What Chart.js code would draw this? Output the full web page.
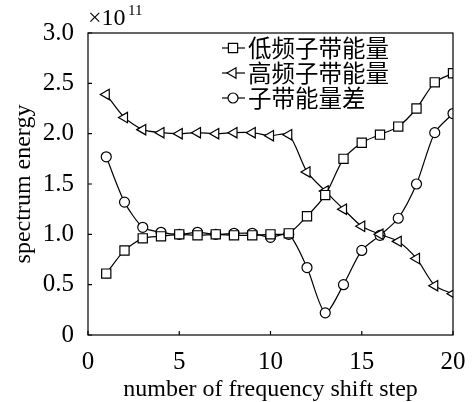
<!DOCTYPE html>
<html>
<head>
<meta charset="utf-8">
<script src="https://cdn.jsdelivr.net/npm/chart.js@4/dist/chart.umd.min.js"></script>
<style>
  html, body { margin: 0; padding: 0; background: #fff; }
  #wrap { width: 472px; height: 402px; }
</style>
</head>
<body>
<div id="wrap"><canvas id="chart" width="472" height="402"></canvas></div>
<script>
// data (values in units of 1e11)
const steps = [1, 2, 3, 4, 5, 6, 7, 8, 9, 10, 11, 12, 13, 14, 15, 16, 17, 18, 19, 20];
const lowBand  = [0.61, 0.84, 0.96, 0.98, 1.00, 0.99, 1.00, 0.99, 0.99, 1.00, 1.01, 1.18, 1.39, 1.75, 1.91, 1.99, 2.07, 2.25, 2.51, 2.60];
const highBand = [2.39, 2.16, 2.04, 2.01, 2.00, 2.01, 2.00, 2.01, 2.01, 1.98, 1.99, 1.62, 1.43, 1.25, 1.08, 1.00, 0.93, 0.76, 0.49, 0.41];
const bandDiff = [1.77, 1.32, 1.07, 1.02, 1.00, 1.02, 1.00, 1.01, 1.01, 0.97, 1.00, 0.67, 0.22, 0.50, 0.84, 0.99, 1.16, 1.50, 2.01, 2.20];
const seriesNames = ["低频子带能量", "高频子带能量", "子带能量差"];
const xTicks = [0, 5, 10, 15, 20];
const yTicks = [0, 0.5, 1.0, 1.5, 2.0, 2.5, 3.0];

const serif = "'Liberation Serif', 'DejaVu Serif', serif";
const cjk = "'Noto Sans CJK SC', sans-serif";

function pts(vals) {
  return vals.map((v, i) => ({ x: steps[i], y: v }));
}

function series(label, vals, style, radius, rotation) {
  return {
    label,
    data: pts(vals),
    borderColor: '#000',
    borderWidth: 1.2,
    pointStyle: style,
    pointRadius: radius,
    pointRotation: rotation,
    pointBorderColor: '#000',
    pointBorderWidth: 1.2,
    pointBackgroundColor: '#fff',
    tension: 0.25,
    fill: false
  };
}

// frame, inward ticks, exponent label and legend
const decorations = {
  id: 'decorations',
  afterDraw(chart) {
    const ctx = chart.ctx;
    const a = chart.chartArea;
    const xs = chart.scales.x, ys = chart.scales.y;
    ctx.save();
    ctx.strokeStyle = '#000';
    ctx.lineWidth = 1.2;
    ctx.strokeRect(a.left, a.top, a.right - a.left, a.bottom - a.top);

    ctx.beginPath();
    xTicks.forEach(t => {
      const px = xs.getPixelForValue(t);
      ctx.moveTo(px, a.bottom);
      ctx.lineTo(px, a.bottom - 4);
    });
    yTicks.forEach(t => {
      const py = ys.getPixelForValue(t);
      ctx.moveTo(a.left, py);
      ctx.lineTo(a.left + 4, py);
    });
    ctx.stroke();

    // ×10^11
    ctx.fillStyle = '#000';
    ctx.textBaseline = 'alphabetic';
    ctx.textAlign = 'left';
    ctx.font = '24px ' + serif;
    ctx.fillText('×10', 88, 25);
    ctx.font = '15px ' + serif;
    ctx.fillText('11', 128, 15);

    // legend
    const items = chart.data.datasets;
    items.forEach((ds, i) => {
      const y = 48 + i * 25;
      ctx.strokeStyle = '#000';
      ctx.lineWidth = 1.2;
      ctx.beginPath();
      ctx.moveTo(222, y);
      ctx.lineTo(245, y);
      ctx.stroke();
      ctx.fillStyle = '#fff';
      Chart.helpers.drawPoint(ctx, {
        pointStyle: ds.pointStyle,
        radius: ds.pointRadius,
        rotation: ds.pointRotation,
        borderWidth: 1.2
      }, 233, y);
      ctx.fillStyle = '#000';
      ctx.font = '23.5px ' + cjk;
      ctx.textBaseline = 'middle';
      ctx.fillText(ds.label, 248, y);
    });
    ctx.restore();
  }
};

new Chart(document.getElementById('chart'), {
  type: 'line',
  data: {
    datasets: [
      series(seriesNames[0], lowBand, 'rect', 6.5, 0),
      series(seriesNames[1], highBand, 'triangle', 6, -90),
      series(seriesNames[2], bandDiff, 'circle', 5, 0)
    ]
  },
  options: {
    responsive: false,
    animation: false,
    layout: { padding: { top: 33, right: 19, left: 0, bottom: 0 } },
    plugins: { legend: { display: false }, tooltip: { enabled: false } },
    scales: {
      x: {
        type: 'linear',
        min: 0, max: 20,
        afterBuildTicks: s => { s.ticks = xTicks.map(v => ({ value: v })); },
        afterFit: s => { s.height = 67; },
        grid: { display: false },
        border: { display: false },
        ticks: { color: '#000', font: { family: serif, size: 25 }, padding: 4, maxRotation: 0 },
        title: { display: true, text: 'number of frequency shift step', color: '#000', font: { family: serif, size: 24, lineHeight: 1 }, padding: { top: 0, bottom: 0 } }
      },
      y: {
        type: 'linear',
        min: 0, max: 3,
        afterBuildTicks: s => { s.ticks = yTicks.map(v => ({ value: v })); },
        afterFit: s => { s.width = 88; },
        grid: { display: false },
        border: { display: false },
        ticks: {
          color: '#000', font: { family: serif, size: 25 }, padding: 6,
          callback: v => v === 0 ? '0' : v.toFixed(1)
        },
        title: { display: true, text: 'spectrum energy', color: '#000', font: { family: serif, size: 24, lineHeight: 1 }, padding: { top: 12, bottom: 0 } }
      }
    }
  },
  plugins: [decorations]
});
</script>
</body>
</html>
